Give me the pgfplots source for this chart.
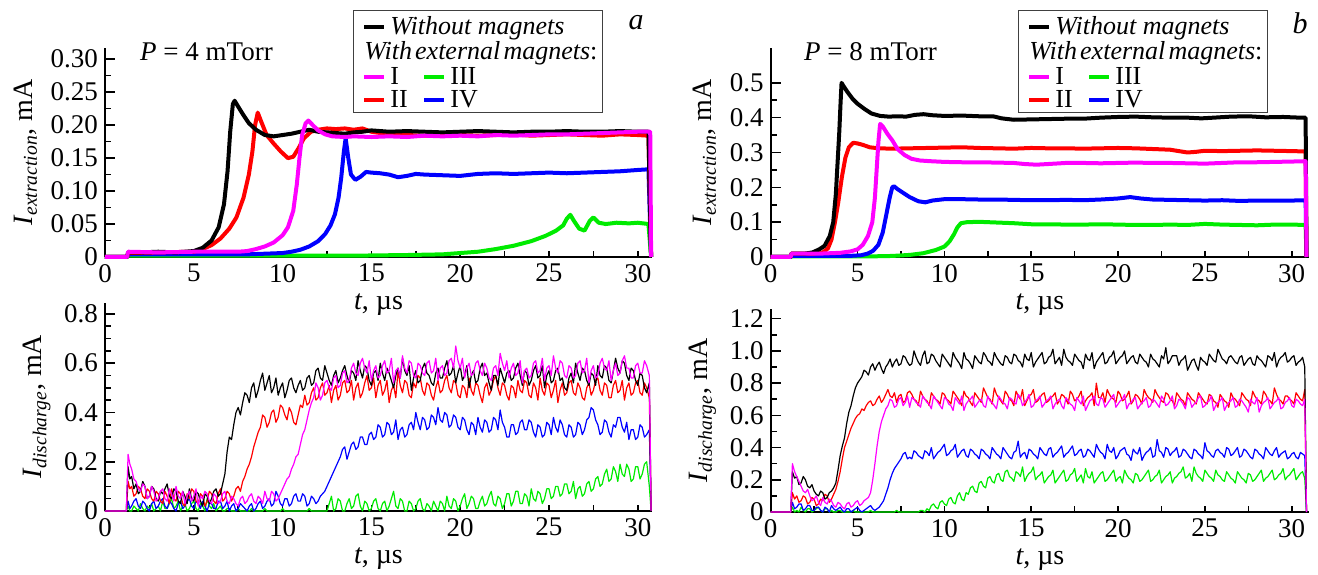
\documentclass[border=0pt]{standalone}
\usepackage{fontspec}
\setmainfont{Liberation Serif}
\usepackage{pgfplots}
\usepackage{pgfplotstable}
\pgfplotsset{compat=1.18}
\definecolor{cK}{RGB}{0,0,0}
\definecolor{cR}{RGB}{255,0,0}
\definecolor{cM}{RGB}{255,0,255}
\definecolor{cG}{RGB}{0,235,0}
\definecolor{cB}{RGB}{0,0,255}

\pgfplotstableread{
t k r m b g
0 0 0 0 0 0
1.2 0 0 0 0 0
1.3 0.18 0.12 0.23 0.04 0.02
1.4 0.13 0.09 0.19 0.01 0.00
1.5 0.14 0.10 0.17 0.02 0.00
1.625 0.09 0.06 0.13 0.04 0.02
1.75 0.11 0.07 0.12 0.05 0.01
1.875 0.07 0.10 0.09 0.02 0.00
2.0 0.08 0.09 0.08 0.01 0.03
2.125 0.12 0.06 0.11 0.04 0.01
2.25 0.10 0.05 0.10 0.03 0.00
2.375 0.05 0.09 0.05 0.01 0.02
2.5 0.06 0.08 0.06 0.00 0.01
2.625 0.10 0.05 0.10 0.03 0.03
2.75 0.09 0.04 0.08 0.04 0.00
2.875 0.05 0.08 0.04 0.01 0.01
3.0 0.04 0.07 0.05 0.02 0.02
3.125 0.08 0.04 0.08 0.04 0.00
3.25 0.07 0.03 0.09 0.05 0.04
3.375 0.09 0.08 0.05 0.02 0.01
3.5 0.11 0.06 0.04 0.01 0.01
3.625 0.06 0.03 0.09 0.04 0.03
3.75 0.05 0.09 0.07 0.03 0.05
3.875 0.09 0.05 0.04 0.01 0.01
4.0 0.08 0.04 0.10 0.00 0.02
4.125 0.04 0.08 0.06 0.03 0.04
4.25 0.03 0.07 0.05 0.04 0.00
4.375 0.08 0.03 0.08 0.01 0.02
4.5 0.06 0.02 0.03 0.02 0.03
4.625 0.03 0.07 0.06 0.04 0.00
4.75 0.09 0.05 0.08 0.05 0.01
4.875 0.05 0.09 0.04 0.02 0.03
5.0 0.04 0.08 0.06 0.01 0.04
5.125 0.08 0.04 0.09 0.04 0.01
5.25 0.07 0.03 0.02 0.03 0.00
5.375 0.04 0.07 0.06 0.01 0.03
5.5 0.02 0.06 0.05 0.04 0.02
5.625 0.07 0.02 0.08 0.02 0.00
5.75 0.06 0.04 0.07 0.00 0.05
5.875 0.03 0.08 0.04 0.03 0.02
6.0 0.05 0.07 0.03 0.03 0.01
6.125 0.08 0.04 0.07 0.01 0.03
6.25 0.09 0.03 0.06 0.01 0.00
6.375 0.06 0.07 0.03 0.04 0.01
6.5 0.07 0.09 0.04 0.04 0.02
6.625 0.11 0.04 0.07 0.01 0.00
6.75 0.15 0.05 0.08 0.02 0.00
6.875 0.24 0.08 0.04 0.04 0.01
7.0 0.30 0.07 0.03 0.00 0.01
7.125 0.29 0.04 0.06 0.02 0.00
7.25 0.35 0.06 0.05 0.03 0.00
7.375 0.40 0.09 0.03 0.00 0.00
7.5 0.42 0.10 0.02 0.01 0.01
7.625 0.39 0.08 0.05 0.03 0.00
7.75 0.44 0.12 0.06 0.02 0.00
7.875 0.48 0.14 0.03 0.01 0.00
8.0 0.47 0.17 0.04 0.00 0.00
8.125 0.44 0.19 0.06 0.02 0.00
8.25 0.50 0.22 0.07 0.03 0.01
8.375 0.52 0.26 0.04 0.00 0.00
8.5 0.46 0.29 0.03 0.01 0.00
8.625 0.49 0.32 0.06 0.03 0.00
8.75 0.53 0.34 0.05 0.04 0.00
8.875 0.56 0.39 0.03 0.01 0.00
9.0 0.49 0.38 0.08 0.02 0.01
9.125 0.52 0.34 0.05 0.04 0.00
9.25 0.55 0.36 0.04 0.05 0.00
9.375 0.48 0.40 0.08 0.02 0.00
9.5 0.50 0.41 0.07 0.03 0.00
9.625 0.54 0.36 0.04 0.08 0.00
9.75 0.47 0.38 0.05 0.06 0.00
9.875 0.50 0.43 0.07 0.03 0.00
10.0 0.52 0.42 0.09 0.02 0.01
10.125 0.46 0.39 0.11 0.05 0.00
10.25 0.49 0.37 0.13 0.05 0.00
10.375 0.53 0.42 0.14 0.02 0.00
10.5 0.54 0.40 0.17 0.03 0.00
10.625 0.50 0.36 0.19 0.06 0.00
10.75 0.48 0.35 0.22 0.07 0.00
10.875 0.51 0.39 0.23 0.04 0.00
11.0 0.53 0.43 0.27 0.04 0.00
11.125 0.49 0.42 0.31 0.07 0.00
11.25 0.50 0.47 0.33 0.06 0.00
11.375 0.54 0.43 0.37 0.02 0.00
11.5 0.55 0.44 0.41 0.03 0.01
11.625 0.51 0.48 0.44 0.06 0.00
11.75 0.52 0.50 0.46 0.05 0.00
11.875 0.57 0.45 0.52 0.03 0.00
12.0 0.58 0.46 0.50 0.04 0.00
12.125 0.54 0.50 0.45 0.06 0.00
12.25 0.53 0.52 0.47 0.07 0.00
12.375 0.59 0.47 0.52 0.08 0.00
12.5 0.56 0.48 0.53 0.10 0.00
12.625 0.53 0.51 0.50 0.12 0.03
12.75 0.51 0.44 0.49 0.14 0.06
12.875 0.55 0.49 0.54 0.16 0.00
13.0 0.57 0.51 0.55 0.18 0.01
13.125 0.52 0.45 0.50 0.20 0.05
13.25 0.54 0.47 0.51 0.22 0.04
13.375 0.57 0.52 0.56 0.25 0.00
13.5 0.59 0.53 0.57 0.26 0.00
13.625 0.55 0.48 0.52 0.21 0.03
13.75 0.52 0.49 0.53 0.24 0.05
13.875 0.57 0.53 0.58 0.27 0.01
14.0 0.56 0.45 0.60 0.28 0.02
14.125 0.53 0.50 0.56 0.25 0.06
14.25 0.61 0.52 0.55 0.26 0.07
14.375 0.57 0.46 0.60 0.30 0.02
14.5 0.54 0.48 0.62 0.30 0.00
14.625 0.59 0.52 0.58 0.27 0.04
14.75 0.58 0.55 0.56 0.27 0.03
14.875 0.53 0.49 0.61 0.31 0.00
15.0 0.51 0.50 0.53 0.32 0.01
15.125 0.56 0.54 0.57 0.29 0.04
15.25 0.57 0.46 0.59 0.30 0.05
15.375 0.53 0.51 0.54 0.35 0.01
15.5 0.60 0.53 0.55 0.34 0.00
15.625 0.56 0.47 0.59 0.30 0.03
15.75 0.53 0.49 0.61 0.31 0.04
15.875 0.58 0.53 0.56 0.36 0.00
16.0 0.56 0.44 0.57 0.35 0.02
16.125 0.53 0.49 0.62 0.31 0.05
16.25 0.50 0.51 0.52 0.32 0.08
16.375 0.55 0.46 0.57 0.37 0.02
16.5 0.58 0.57 0.58 0.29 0.01
16.625 0.54 0.51 0.54 0.33 0.05
16.75 0.62 0.48 0.63 0.34 0.04
16.875 0.57 0.53 0.58 0.30 0.00
17.0 0.55 0.52 0.56 0.31 0.00
17.125 0.59 0.47 0.61 0.35 0.04
17.25 0.49 0.46 0.60 0.36 0.03
17.375 0.54 0.52 0.55 0.33 0.00
17.5 0.57 0.50 0.54 0.40 0.01
17.625 0.52 0.55 0.60 0.36 0.04
17.75 0.53 0.54 0.59 0.33 0.05
17.875 0.58 0.49 0.56 0.38 0.01
18.0 0.60 0.47 0.55 0.37 0.00
18.125 0.56 0.52 0.60 0.33 0.03
18.25 0.55 0.51 0.61 0.34 0.02
18.375 0.52 0.47 0.56 0.39 0.00
18.5 0.51 0.45 0.57 0.38 0.04
18.625 0.56 0.50 0.62 0.35 0.02
18.75 0.58 0.53 0.53 0.42 0.00
18.875 0.54 0.48 0.58 0.37 0.04
19.0 0.54 0.49 0.59 0.36 0.03
19.125 0.58 0.53 0.55 0.40 0.00
19.25 0.61 0.55 0.56 0.39 0.06
19.375 0.55 0.50 0.61 0.34 0.02
19.5 0.56 0.48 0.62 0.35 0.01
19.625 0.59 0.53 0.58 0.39 0.05
19.75 0.52 0.52 0.67 0.38 0.04
19.875 0.56 0.47 0.61 0.34 0.00
20.0 0.59 0.46 0.58 0.33 0.02
20.125 0.53 0.51 0.62 0.38 0.05
20.25 0.55 0.50 0.54 0.37 0.07
20.375 0.59 0.46 0.58 0.33 0.01
20.5 0.50 0.54 0.60 0.31 0.03
20.625 0.55 0.49 0.55 0.36 0.06
20.75 0.57 0.47 0.56 0.35 0.05
20.875 0.52 0.52 0.60 0.31 0.01
21.0 0.53 0.51 0.61 0.38 0.01
21.125 0.58 0.47 0.57 0.34 0.04
21.25 0.60 0.44 0.55 0.32 0.06
21.375 0.55 0.50 0.60 0.37 0.02
21.5 0.56 0.52 0.58 0.36 0.03
21.625 0.52 0.47 0.54 0.32 0.06
21.75 0.49 0.49 0.53 0.33 0.08
21.875 0.55 0.53 0.58 0.38 0.03
22.0 0.55 0.55 0.59 0.37 0.02
22.125 0.51 0.50 0.55 0.33 0.06
22.25 0.58 0.47 0.64 0.41 0.05
22.375 0.55 0.52 0.60 0.36 0.01
22.5 0.52 0.51 0.57 0.34 0.03
22.625 0.56 0.47 0.61 0.30 0.07
22.75 0.57 0.45 0.54 0.30 0.07
22.875 0.53 0.51 0.58 0.35 0.02
23.0 0.54 0.50 0.60 0.35 0.04
23.125 0.58 0.46 0.55 0.31 0.08
23.25 0.60 0.53 0.56 0.32 0.08
23.375 0.55 0.49 0.61 0.36 0.03
23.5 0.51 0.48 0.52 0.37 0.03
23.625 0.57 0.53 0.57 0.33 0.07
23.75 0.56 0.52 0.58 0.33 0.06
23.875 0.51 0.47 0.54 0.37 0.02
24.0 0.53 0.46 0.55 0.36 0.09
24.125 0.57 0.52 0.60 0.32 0.05
24.25 0.59 0.50 0.61 0.30 0.04
24.375 0.54 0.45 0.56 0.35 0.08
24.5 0.55 0.54 0.57 0.34 0.07
24.625 0.59 0.49 0.62 0.30 0.03
24.75 0.50 0.47 0.53 0.31 0.05
24.875 0.55 0.52 0.58 0.36 0.09
25.0 0.57 0.51 0.59 0.35 0.09
25.125 0.52 0.46 0.55 0.31 0.05
25.25 0.53 0.49 0.63 0.38 0.06
25.375 0.57 0.53 0.58 0.34 0.10
25.5 0.58 0.44 0.56 0.32 0.10
25.625 0.53 0.49 0.61 0.37 0.06
25.75 0.54 0.52 0.60 0.35 0.07
25.875 0.50 0.47 0.55 0.31 0.11
26.0 0.49 0.48 0.54 0.30 0.11
26.125 0.54 0.52 0.59 0.35 0.07
26.25 0.56 0.53 0.58 0.34 0.08
26.375 0.52 0.48 0.54 0.30 0.12
26.5 0.60 0.47 0.55 0.31 0.05
26.625 0.56 0.52 0.60 0.36 0.09
26.75 0.53 0.50 0.61 0.35 0.10
26.875 0.58 0.46 0.56 0.31 0.06
27.0 0.57 0.45 0.57 0.33 0.07
27.125 0.53 0.50 0.62 0.37 0.11
27.25 0.51 0.52 0.52 0.38 0.12
27.375 0.56 0.47 0.57 0.42 0.08
27.5 0.55 0.49 0.59 0.41 0.09
27.625 0.51 0.53 0.54 0.37 0.13
27.75 0.59 0.54 0.55 0.35 0.14
27.875 0.55 0.49 0.60 0.31 0.10
28.0 0.54 0.47 0.62 0.32 0.11
28.125 0.59 0.52 0.58 0.37 0.15
28.25 0.58 0.51 0.57 0.36 0.17
28.375 0.53 0.46 0.61 0.32 0.12
28.5 0.52 0.46 0.53 0.30 0.13
28.625 0.57 0.51 0.57 0.35 0.18
28.75 0.62 0.53 0.60 0.34 0.16
28.875 0.58 0.48 0.55 0.38 0.12
29.0 0.56 0.49 0.56 0.38 0.19
29.125 0.61 0.53 0.61 0.34 0.15
29.25 0.60 0.45 0.63 0.32 0.14
29.375 0.55 0.50 0.58 0.36 0.19
29.5 0.53 0.52 0.58 0.29 0.17
29.625 0.58 0.47 0.54 0.33 0.12
29.75 0.57 0.48 0.54 0.33 0.13
29.875 0.53 0.52 0.59 0.29 0.18
30.0 0.51 0.53 0.60 0.30 0.18
30.125 0.56 0.48 0.56 0.35 0.13
30.25 0.55 0.47 0.56 0.34 0.15
30.375 0.50 0.52 0.61 0.30 0.19
30.5 0.48 0.50 0.59 0.31 0.20
30.65 0.52 0.46 0.55 0.33 0.10
30.75 0 0 0 0 0
}\dischA

\pgfplotstableread{
t k r m b g
0 0 0 0 0 0
1.15 0 0 0 0 0
1.25 0.25 0.12 0.30 0.06 0.03
1.375 0.21 0.08 0.25 0.02 0.00
1.5 0.22 0.10 0.22 0.03 0.01
1.625 0.17 0.06 0.19 0.05 0.00
1.75 0.18 0.07 0.16 0.05 0.03
1.875 0.22 0.10 0.13 0.01 0.01
2.0 0.20 0.09 0.12 0.02 0.00
2.125 0.16 0.05 0.14 0.04 0.02
2.25 0.15 0.06 0.10 0.04 0.02
2.375 0.17 0.09 0.07 0.01 0.00
2.5 0.13 0.08 0.08 0.01 0.01
2.625 0.11 0.04 0.10 0.03 0.02
2.75 0.10 0.05 0.06 0.03 0.03
2.875 0.13 0.08 0.04 0.01 0.01
3.0 0.12 0.07 0.09 0.00 0.00
3.125 0.08 0.11 0.06 0.03 0.02
3.25 0.09 0.10 0.05 0.02 0.02
3.375 0.12 0.06 0.08 0.00 0.00
3.5 0.13 0.08 0.07 0.04 0.01
3.625 0.15 0.11 0.04 0.02 0.00
3.75 0.18 0.14 0.03 0.01 0.00
3.875 0.26 0.19 0.06 0.02 0.01
4.0 0.35 0.25 0.05 0.03 0.01
4.125 0.41 0.33 0.03 0.01 0.00
4.25 0.46 0.40 0.02 0.00 0.00
4.375 0.55 0.44 0.05 0.02 0.00
4.5 0.62 0.48 0.06 0.02 0.00
4.625 0.66 0.52 0.03 0.00 0.00
4.75 0.72 0.55 0.04 0.01 0.01
4.875 0.77 0.58 0.06 0.02 0.00
5.0 0.80 0.60 0.07 0.03 0.00
5.125 0.82 0.61 0.04 0.01 0.00
5.25 0.84 0.64 0.05 0.00 0.00
5.375 0.88 0.63 0.07 0.01 0.00
5.5 0.87 0.66 0.08 0.02 0.00
5.625 0.85 0.68 0.09 0.03 0.00
5.75 0.90 0.69 0.12 0.04 0.01
5.875 0.92 0.66 0.20 0.02 0.00
6.0 0.88 0.67 0.30 0.01 0.00
6.125 0.91 0.70 0.41 0.02 0.00
6.25 0.93 0.72 0.50 0.03 0.00
6.375 0.89 0.68 0.56 0.05 0.00
6.5 0.86 0.70 0.60 0.07 0.00
6.625 0.90 0.73 0.64 0.11 0.00
6.75 0.92 0.76 0.66 0.15 0.00
6.875 0.95 0.72 0.70 0.20 0.00
7.0 0.90 0.71 0.69 0.24 0.00
7.125 0.93 0.74 0.65 0.27 0.00
7.25 0.95 0.68 0.66 0.29 0.01
7.375 0.91 0.72 0.70 0.31 0.00
7.5 0.92 0.73 0.71 0.33 0.00
7.625 0.97 0.68 0.66 0.36 0.00
7.75 0.96 0.69 0.68 0.37 0.00
7.875 0.93 0.74 0.72 0.33 0.00
8.0 0.91 0.75 0.65 0.34 0.00
8.125 0.92 0.73 0.71 0.33 0.00
8.25 1.00 0.70 0.70 0.38 0.00
8.375 0.96 0.69 0.68 0.37 0.00
8.5 0.93 0.66 0.67 0.35 0.00
8.625 0.91 0.75 0.65 0.34 0.01
8.75 0.97 0.72 0.72 0.33 0.01
8.875 1.00 0.70 0.70 0.38 0.00
9.0 0.92 0.69 0.68 0.37 0.02
9.125 0.93 0.66 0.67 0.35 0.01
9.25 0.98 0.74 0.64 0.40 0.04
9.375 0.97 0.72 0.72 0.33 0.05
9.5 0.94 0.70 0.70 0.35 0.03
9.625 0.92 0.69 0.68 0.37 0.02
9.75 0.90 0.67 0.66 0.38 0.06
9.875 0.98 0.74 0.64 0.40 0.07
10.0 0.96 0.73 0.71 0.42 0.05
10.125 0.94 0.70 0.70 0.35 0.04
10.25 0.92 0.69 0.67 0.36 0.08
10.375 0.90 0.67 0.66 0.38 0.09
10.5 0.99 0.75 0.63 0.39 0.06
10.625 0.96 0.73 0.71 0.42 0.05
10.75 0.94 0.71 0.69 0.34 0.10
10.875 0.92 0.69 0.67 0.36 0.12
11.0 0.89 0.66 0.72 0.38 0.08
11.125 0.99 0.75 0.63 0.39 0.07
11.25 0.95 0.72 0.67 0.35 0.12
11.375 0.94 0.71 0.69 0.34 0.11
11.5 0.92 0.68 0.70 0.39 0.15
11.625 0.89 0.66 0.72 0.38 0.16
11.75 0.97 0.74 0.65 0.36 0.13
11.875 0.95 0.72 0.67 0.35 0.12
12.0 0.93 0.70 0.69 0.33 0.18
12.125 0.92 0.68 0.70 0.39 0.19
12.25 0.99 0.77 0.66 0.38 0.16
12.375 0.97 0.74 0.65 0.36 0.15
12.5 0.94 0.71 0.72 0.35 0.21
12.625 0.93 0.70 0.69 0.33 0.22
12.75 0.91 0.67 0.68 0.40 0.19
12.875 0.99 0.77 0.66 0.38 0.18
13.0 0.96 0.73 0.64 0.36 0.23
13.125 0.94 0.71 0.72 0.35 0.24
13.25 0.92 0.69 0.70 0.33 0.20
13.375 0.91 0.67 0.68 0.40 0.19
13.5 0.97 0.75 0.67 0.38 0.25
13.625 0.96 0.73 0.64 0.36 0.26
13.75 0.93 0.70 0.71 0.34 0.22
13.875 0.92 0.69 0.70 0.33 0.21
14.0 0.98 0.66 0.68 0.37 0.19
14.125 0.97 0.75 0.67 0.38 0.25
14.25 0.94 0.72 0.73 0.44 0.24
14.375 0.93 0.70 0.71 0.34 0.22
14.5 0.90 0.76 0.66 0.36 0.28
14.625 0.98 0.66 0.68 0.37 0.19
14.75 0.95 0.69 0.70 0.33 0.22
14.875 0.94 0.72 0.73 0.39 0.24
15.0 0.99 0.73 0.65 0.38 0.25
15.125 0.90 0.76 0.66 0.36 0.28
15.25 0.93 0.68 0.69 0.35 0.20
15.375 0.95 0.69 0.70 0.33 0.22
15.5 0.97 0.71 0.72 0.40 0.23
15.625 0.99 0.73 0.65 0.38 0.25
15.75 0.92 0.74 0.67 0.36 0.18
15.875 0.93 0.68 0.69 0.35 0.20
16.0 0.96 0.69 0.70 0.39 0.22
16.125 0.97 0.71 0.72 0.40 0.23
16.25 1.01 0.72 0.64 0.34 0.26
16.375 0.92 0.74 0.67 0.36 0.18
16.5 0.94 0.67 0.69 0.37 0.20
16.625 0.96 0.69 0.70 0.39 0.22
16.75 0.91 0.73 0.66 0.41 0.24
16.875 1.01 0.72 0.64 0.34 0.26
17.0 0.96 0.70 0.71 0.36 0.19
17.125 0.94 0.67 0.69 0.37 0.20
17.25 0.93 0.75 0.67 0.39 0.23
17.375 0.91 0.73 0.66 0.41 0.24
17.5 0.98 0.69 0.63 0.35 0.27
17.625 0.96 0.70 0.71 0.36 0.19
17.75 0.94 0.72 0.69 0.38 0.21
17.875 0.93 0.75 0.67 0.39 0.23
18.0 0.89 0.66 0.72 0.34 0.18
18.125 0.98 0.69 0.63 0.35 0.27
18.25 0.95 0.71 0.66 0.39 0.22
18.375 0.94 0.72 0.69 0.38 0.21
18.5 0.99 0.74 0.70 0.36 0.25
18.625 0.89 0.66 0.72 0.34 0.18
18.75 0.93 0.80 0.67 0.42 0.20
18.875 0.95 0.71 0.66 0.39 0.22
19.0 0.97 0.71 0.71 0.37 0.24
19.125 0.99 0.74 0.70 0.36 0.25
19.25 0.92 0.68 0.65 0.33 0.19
19.375 0.93 0.76 0.67 0.42 0.20
19.5 0.96 0.73 0.69 0.38 0.22
19.625 0.97 0.71 0.71 0.37 0.24
19.75 1.00 0.70 0.73 0.40 0.26
19.875 0.92 0.68 0.65 0.33 0.19
20.0 0.94 0.75 0.67 0.35 0.21
20.125 0.96 0.73 0.69 0.38 0.22
20.25 0.97 0.69 0.70 0.39 0.18
20.375 1.00 0.70 0.73 0.40 0.26
20.5 0.92 0.72 0.64 0.36 0.23
20.625 0.94 0.75 0.67 0.35 0.21
20.75 0.96 0.67 0.68 0.32 0.20
20.875 0.97 0.69 0.70 0.39 0.18
21.0 0.93 0.73 0.71 0.37 0.24
21.125 0.92 0.72 0.64 0.36 0.23
21.25 0.98 0.70 0.66 0.40 0.19
21.375 0.96 0.67 0.68 0.32 0.20
21.5 0.94 0.76 0.69 0.35 0.22
21.625 0.93 0.73 0.71 0.37 0.24
21.75 0.90 0.71 0.65 0.38 0.26
21.875 0.98 0.70 0.66 0.40 0.19
22.0 0.95 0.68 0.70 0.34 0.20
22.125 0.94 0.76 0.69 0.35 0.22
22.25 0.92 0.73 0.67 0.45 0.23
22.375 0.90 0.71 0.65 0.38 0.26
22.5 0.97 0.69 0.72 0.37 0.18
22.625 0.95 0.68 0.70 0.34 0.20
22.75 1.02 0.74 0.66 0.40 0.22
22.875 0.92 0.73 0.67 0.39 0.23
23.0 0.94 0.70 0.69 0.35 0.25
23.125 0.97 0.69 0.72 0.37 0.18
23.25 0.97 0.66 0.64 0.38 0.21
23.375 0.97 0.74 0.66 0.40 0.22
23.5 0.91 0.72 0.70 0.34 0.24
23.625 0.94 0.70 0.69 0.35 0.25
23.75 0.95 0.69 0.67 0.39 0.28
23.875 0.97 0.66 0.64 0.38 0.21
24.0 0.88 0.74 0.71 0.36 0.22
24.125 0.91 0.72 0.70 0.34 0.24
24.25 0.94 0.70 0.65 0.33 0.19
24.375 0.95 0.69 0.67 0.39 0.28
24.5 0.91 0.67 0.68 0.38 0.24
24.625 0.88 0.74 0.71 0.36 0.22
24.75 0.96 0.72 0.72 0.35 0.21
24.875 0.94 0.70 0.65 0.33 0.19
25.0 0.93 0.68 0.66 0.43 0.26
25.125 0.91 0.67 0.68 0.38 0.24
25.25 0.98 0.73 0.69 0.37 0.22
25.375 0.96 0.72 0.72 0.35 0.21
25.5 0.94 0.69 0.63 0.34 0.19
25.625 0.93 0.68 0.66 0.38 0.26
25.75 1.01 0.65 0.68 0.39 0.23
25.875 0.98 0.73 0.69 0.37 0.22
26.0 0.95 0.71 0.71 0.36 0.20
26.125 0.94 0.69 0.63 0.34 0.19
26.25 0.92 0.68 0.66 0.40 0.25
26.375 0.96 0.65 0.68 0.39 0.23
26.5 0.97 0.74 0.69 0.35 0.21
26.625 0.95 0.71 0.71 0.36 0.20
26.75 0.93 0.70 0.65 0.38 0.18
26.875 0.92 0.68 0.66 0.40 0.25
27.0 0.96 0.66 0.70 0.34 0.23
27.125 0.97 0.74 0.69 0.35 0.21
27.25 0.91 0.72 0.67 0.39 0.20
27.375 0.93 0.70 0.65 0.38 0.18
27.5 0.95 0.69 0.62 0.36 0.24
27.625 0.96 0.66 0.70 0.34 0.23
27.75 0.92 0.75 0.68 0.33 0.19
27.875 0.91 0.72 0.67 0.39 0.20
28.0 0.97 0.70 0.71 0.38 0.22
28.125 0.95 0.69 0.62 0.36 0.24
28.25 0.94 0.67 0.66 0.35 0.26
28.375 0.92 0.75 0.68 0.33 0.19
28.5 0.90 0.73 0.69 0.40 0.21
28.625 0.97 0.70 0.71 0.38 0.22
28.75 0.96 0.69 0.64 0.36 0.24
28.875 0.94 0.67 0.66 0.35 0.26
29.0 0.99 0.77 0.68 0.38 0.20
29.125 0.90 0.73 0.69 0.40 0.21
29.25 0.94 0.70 0.71 0.34 0.23
29.375 0.96 0.69 0.64 0.36 0.24
29.5 0.97 0.67 0.65 0.37 0.27
29.625 0.99 0.72 0.68 0.38 0.20
29.75 0.93 0.72 0.69 0.33 0.22
29.875 0.94 0.70 0.71 0.34 0.23
30.0 0.96 0.69 0.66 0.36 0.25
30.125 0.97 0.67 0.65 0.37 0.27
30.25 0.91 0.74 0.70 0.34 0.20
30.375 0.93 0.72 0.69 0.33 0.22
30.5 0.94 0.70 0.67 0.37 0.24
30.625 0.96 0.69 0.66 0.36 0.25
30.75 0.90 0.76 0.70 0.35 0.21
30.85 0 0 0 0 0
}\dischB

\pgfplotsset{
 panel/.style={
  scale only axis, anchor=south west,
  axis x line*=bottom, axis y line*=left,
  axis line style={-, line width=0.9pt},
  tick align=inside, tick style={black, line width=0.8pt},
  major tick length=5pt, minor tick length=3pt,
  every major x tick/.append style={/pgfplots/major tick length=3.2pt},
  every minor x tick/.append style={/pgfplots/minor tick length=3.2pt},
  xmin=0, ymin=0, xtick={0,5,10,15,20,25,30}, minor x tick num=1,
  /pgf/number format/assume math mode=true,
  xticklabel={\textrm{\pgfmathprintnumber{\tick}}},
  tick label style={font=\fontsize{13.5}{16}\selectfont},
  label style={font=\fontsize{14}{16}\selectfont},
  xlabel={\textit{t}, µs},
  xlabel style={at={(axis description cs:0.5,0)}, anchor=center, yshift=-24pt},
  clip=false,
 },
 thk/.style={line width=2pt, line join=round},
 thn/.style={line width=0.6pt, line join=round},
}
\newcommand{\lkey}[1]{\textcolor{#1}{\rule[0.22em]{10pt}{2pt}}\hspace{3pt}}
\newcommand{\legendbox}[1]{%
 \begin{scope}[shift={(#1,0pt)}]
 \node[draw=black!75, line width=0.6pt, minimum width=124.5pt, minimum height=51pt, anchor=north west, inner sep=0pt] at (0pt,282pt) {};
 \begin{scope}[every node/.style={anchor=base west, inner sep=0pt, font=\fontsize{13}{13}\selectfont}]
 \node at (5.5pt,269.5pt) {\lkey{cK}\textit{Without magnets}};
 \node at (5.5pt,257pt) {\textit{With\hspace{0.12em}external\hspace{0.12em}magnets}:};
 \node at (5.5pt,244.5pt) {\lkey{cM}I};
 \node at (35.5pt,244.5pt) {\lkey{cG}III};
 \node at (5.5pt,233pt) {\lkey{cR}II};
 \node at (35.5pt,233pt) {\lkey{cB}IV};
 \end{scope}
 \end{scope}}

\begin{document}
\begin{tikzpicture}
\path[use as bounding box] (0pt,0pt) rectangle (659pt,287pt);

% ---------- top left ----------
\begin{axis}[panel, at={(52.5pt,158.5pt)}, width=273.5pt, height=104.5pt,
  xmax=30.8, ymax=0.317,
  ytick={0,0.05,0.1,0.15,0.2,0.25,0.3},
  yticklabels={\textrm{0},\textrm{0.05},\textrm{0.10},\textrm{0.15},\textrm{0.20},\textrm{0.25},\textrm{0.30}},
  minor y tick num=1,
  ylabel={\textit{I}\textsubscript{\textit{extraction}}, mA}]
\addplot[thk, cG] coordinates {(0,0) (1.25,0) (1.3,0.002) (10,0.002) (14,0.002) (17,0.003) (19,0.004) (20,0.006) (21,0.008) (22,0.012) (23,0.017) (24,0.024) (24.8,0.032) (25.4,0.04) (25.8,0.048) (26.0,0.058) (26.2,0.064) (26.4,0.055) (26.7,0.043) (27.0,0.04) (27.3,0.055) (27.5,0.06) (27.8,0.052) (28.2,0.05) (28.8,0.052) (29.5,0.051) (30,0.052) (30.6,0.05) (30.75,0)};
\addplot[thk, cB] coordinates {(0,0) (1.25,0) (1.3,0.004) (5,0.004) (8,0.004) (9,0.005) (10,0.006) (10.5,0.008) (11,0.011) (11.5,0.016) (12,0.024) (12.4,0.035) (12.7,0.048) (12.95,0.065) (13.15,0.09) (13.3,0.12) (13.45,0.16) (13.55,0.18) (13.7,0.15) (13.85,0.125) (14.1,0.117) (14.4,0.122) (14.7,0.129) (15,0.128) (15.5,0.127) (16,0.125) (16.5,0.121) (17,0.123) (17.5,0.126) (18,0.125) (19,0.124) (20,0.123) (21,0.126) (22,0.127) (23,0.126) (24,0.127) (25,0.128) (26,0.127) (27,0.128) (28,0.129) (29,0.13) (30,0.132) (30.6,0.133) (30.75,0)};
\addplot[thk, cR] coordinates {(0,0) (1.25,0) (1.3,0.006) (3,0.007) (5,0.008) (5.5,0.012) (6,0.018) (6.5,0.028) (7,0.043) (7.4,0.06) (7.8,0.09) (8.1,0.125) (8.3,0.16) (8.45,0.2) (8.6,0.219) (8.8,0.205) (9.1,0.185) (9.5,0.172) (9.9,0.16) (10.3,0.15) (10.6,0.152) (10.9,0.165) (11.2,0.18) (11.6,0.19) (12,0.193) (12.5,0.195) (13,0.194) (13.5,0.195) (14,0.193) (14.5,0.195) (15,0.19) (15.5,0.188) (16,0.186) (17,0.185) (18,0.184) (19,0.186) (20,0.185) (21,0.184) (22,0.185) (23,0.186) (24,0.184) (25,0.185) (26,0.186) (27,0.185) (28,0.184) (29,0.186) (30,0.185) (30.6,0.184) (30.75,0)};
\addplot[thk, cK] coordinates {(0,0) (1.25,0) (1.3,0.007) (2,0.007) (3,0.008) (4,0.007) (5,0.009) (5.5,0.014) (6,0.025) (6.4,0.045) (6.7,0.08) (6.9,0.13) (7.05,0.19) (7.2,0.232) (7.3,0.237) (7.5,0.228) (7.8,0.215) (8.1,0.203) (8.5,0.193) (9,0.185) (9.5,0.183) (10,0.185) (10.5,0.187) (11,0.19) (11.5,0.193) (12,0.19) (12.5,0.189) (13,0.188) (13.5,0.187) (14,0.189) (14.5,0.19) (15,0.192) (16,0.19) (17,0.191) (18,0.19) (19,0.189) (20,0.19) (21,0.191) (22,0.19) (23,0.189) (24,0.19) (25,0.19) (26,0.191) (27,0.19) (28,0.19) (29,0.191) (30,0.19) (30.6,0.19) (30.75,0)};
\addplot[thk, cM] coordinates {(0,0) (1.25,0) (1.3,0.008) (3,0.007) (5,0.008) (7.5,0.008) (8,0.009) (8.5,0.012) (9,0.016) (9.5,0.022) (10,0.033) (10.3,0.045) (10.6,0.07) (10.8,0.11) (10.95,0.15) (11.1,0.185) (11.3,0.203) (11.45,0.207) (11.7,0.2) (12,0.192) (12.4,0.186) (12.8,0.183) (13.5,0.182) (14,0.183) (15,0.182) (16,0.183) (17,0.182) (18,0.184) (19,0.183) (20,0.184) (21,0.183) (22,0.185) (23,0.184) (24,0.185) (25,0.186) (26,0.186) (27,0.187) (28,0.188) (29,0.189) (30,0.19) (30.7,0.19) (30.75,0)};
\end{axis}

% ---------- bottom left ----------
\begin{axis}[panel, at={(52.5pt,31.5pt)}, width=273.5pt, height=104.2pt,
  xmax=30.8, ymax=0.846,
  ytick={0,0.2,0.4,0.6,0.8},
  yticklabels={\textrm{0},\textrm{0.2},\textrm{0.4},\textrm{0.6},\textrm{0.8}},
  minor y tick num=3,
  ylabel={\textit{I}\textsubscript{\textit{discharge}}, mA}]
\addplot[thn, cG] table[x=t, y=g] {\dischA};
\addplot[thn, cB] table[x=t, y=b] {\dischA};
\addplot[thn, cR] table[x=t, y=r] {\dischA};
\addplot[thn, cK] table[x=t, y=k] {\dischA};
\addplot[thn, cM] table[x=t, y=m] {\dischA};
\end{axis}

% ---------- top right ----------
\begin{axis}[panel, at={(385.35pt,158.5pt)}, width=269.2pt, height=104.5pt,
  xmax=31, ymax=0.6,
  ytick={0,0.1,0.2,0.3,0.4,0.5},
  yticklabels={\textrm{0},\textrm{0.1},\textrm{0.2},\textrm{0.3},\textrm{0.4},\textrm{0.5}},
  minor y tick num=1,
  ylabel={\textit{I}\textsubscript{\textit{extraction}}, mA}]
\addplot[thk, cG] coordinates {(0,0) (1.15,0) (1.2,0.002) (6,0.002) (7,0.003) (8,0.006) (8.8,0.011) (9.5,0.02) (10,0.03) (10.3,0.045) (10.55,0.065) (10.75,0.085) (10.95,0.097) (11.3,0.1) (12,0.101) (13,0.099) (14,0.097) (15,0.094) (16,0.094) (17,0.093) (18,0.093) (19,0.094) (20,0.093) (21,0.092) (22,0.092) (23,0.093) (24,0.092) (25,0.095) (26,0.093) (27,0.092) (28,0.091) (29,0.093) (30,0.093) (30.8,0.092) (30.85,0)};
\addplot[thk, cB] coordinates {(0,0) (1.15,0) (1.2,0.003) (4.5,0.003) (5.2,0.005) (5.6,0.01) (5.9,0.018) (6.2,0.035) (6.45,0.07) (6.65,0.12) (6.85,0.17) (7.0,0.2) (7.1,0.203) (7.3,0.195) (7.6,0.185) (8.0,0.172) (8.5,0.16) (8.9,0.157) (9.3,0.162) (10,0.166) (11,0.166) (12,0.165) (13,0.165) (14,0.164) (15,0.163) (16,0.163) (17,0.164) (18,0.163) (19,0.165) (20,0.168) (20.7,0.172) (21.3,0.168) (22,0.165) (23,0.164) (24,0.163) (25,0.162) (26,0.163) (27,0.161) (28,0.162) (29,0.162) (30,0.162) (30.8,0.163) (30.85,0)};
\addplot[thk, cR] coordinates {(0,0) (1.15,0) (1.2,0.01) (2.5,0.01) (3.0,0.013) (3.3,0.025) (3.5,0.05) (3.7,0.1) (3.9,0.16) (4.1,0.23) (4.3,0.285) (4.5,0.315) (4.75,0.328) (5.0,0.326) (5.3,0.322) (5.7,0.315) (6.2,0.312) (7,0.311) (8,0.312) (9,0.313) (10,0.314) (11,0.315) (12,0.313) (13,0.312) (14,0.311) (15,0.313) (16,0.312) (17,0.312) (18,0.311) (19,0.312) (20,0.313) (21,0.312) (22,0.31) (23,0.308) (24,0.3) (24.5,0.302) (25,0.305) (26,0.304) (27,0.305) (28,0.306) (29,0.305) (30,0.304) (30.8,0.303) (30.85,0)};
\addplot[thk, cK] coordinates {(0,0) (1.15,0) (1.2,0.01) (2.0,0.01) (2.4,0.013) (2.8,0.022) (3.1,0.032) (3.4,0.06) (3.6,0.1) (3.75,0.18) (3.85,0.27) (3.95,0.36) (4.02,0.44) (4.08,0.5) (4.2,0.49) (4.4,0.475) (4.7,0.455) (5.0,0.44) (5.4,0.425) (5.8,0.412) (6.3,0.405) (6.8,0.403) (7.3,0.404) (7.8,0.403) (8.3,0.408) (8.8,0.41) (9.3,0.407) (10,0.405) (11,0.406) (12,0.404) (12.8,0.404) (13.3,0.398) (14,0.394) (15,0.395) (16,0.396) (17,0.397) (18,0.397) (19,0.4) (20,0.402) (21,0.403) (22,0.401) (23,0.4) (24,0.4) (24.8,0.398) (25.5,0.4) (26.5,0.403) (27.5,0.404) (28.5,0.401) (29.5,0.402) (30.5,0.4) (30.8,0.4) (30.85,0)};
\addplot[thk, cM] coordinates {(0,0) (1.15,0) (1.2,0.01) (3,0.01) (4,0.012) (4.6,0.016) (5.0,0.022) (5.3,0.035) (5.6,0.06) (5.85,0.1) (6.0,0.17) (6.1,0.25) (6.2,0.33) (6.3,0.382) (6.45,0.375) (6.7,0.355) (7.0,0.335) (7.3,0.31) (7.7,0.293) (8.1,0.282) (8.6,0.277) (9.2,0.275) (10,0.273) (11,0.272) (12,0.272) (13,0.271) (14,0.27) (14.6,0.267) (15.3,0.265) (16,0.267) (17,0.27) (18,0.27) (19,0.269) (20,0.27) (21,0.271) (22,0.27) (23,0.27) (24,0.269) (25,0.268) (26,0.27) (27,0.272) (28,0.272) (29,0.273) (30,0.274) (30.8,0.275) (30.85,0)};
\end{axis}

% ---------- bottom right ----------
\begin{axis}[panel, at={(385.35pt,31pt)}, width=269.2pt, height=101.5pt,
  xmax=31, ymax=1.26,
  ytick={0,0.2,0.4,0.6,0.8,1.0,1.2},
  yticklabels={\textrm{0},\textrm{0.2},\textrm{0.4},\textrm{0.6},\textrm{0.8},\textrm{1.0},\textrm{1.2}},
  minor y tick num=1,
  ylabel={\textit{I}\textsubscript{\textit{discharge}}, mA}]
\addplot[thn, cG] table[x=t, y=g] {\dischB};
\addplot[thn, cB] table[x=t, y=b] {\dischB};
\addplot[thn, cR] table[x=t, y=r] {\dischB};
\addplot[thn, cK] table[x=t, y=k] {\dischB};
\addplot[thn, cM] table[x=t, y=m] {\dischB};
\end{axis}

% ---------- annotations ----------
\legendbox{176.5pt}
\legendbox{509pt}
\node[font=\fontsize{13.5}{14}\selectfont] at (103.25pt,261pt) {\textit{P} = 4 mTorr};
\node[font=\fontsize{13.5}{14}\selectfont] at (435.25pt,261pt) {\textit{P} = 8 mTorr};
\node[font=\itshape\fontsize{15}{15}\selectfont] at (318pt,275.5pt) {a};
\node[font=\itshape\fontsize{15}{15}\selectfont] at (650pt,275.5pt) {b};
\end{tikzpicture}
\end{document}
